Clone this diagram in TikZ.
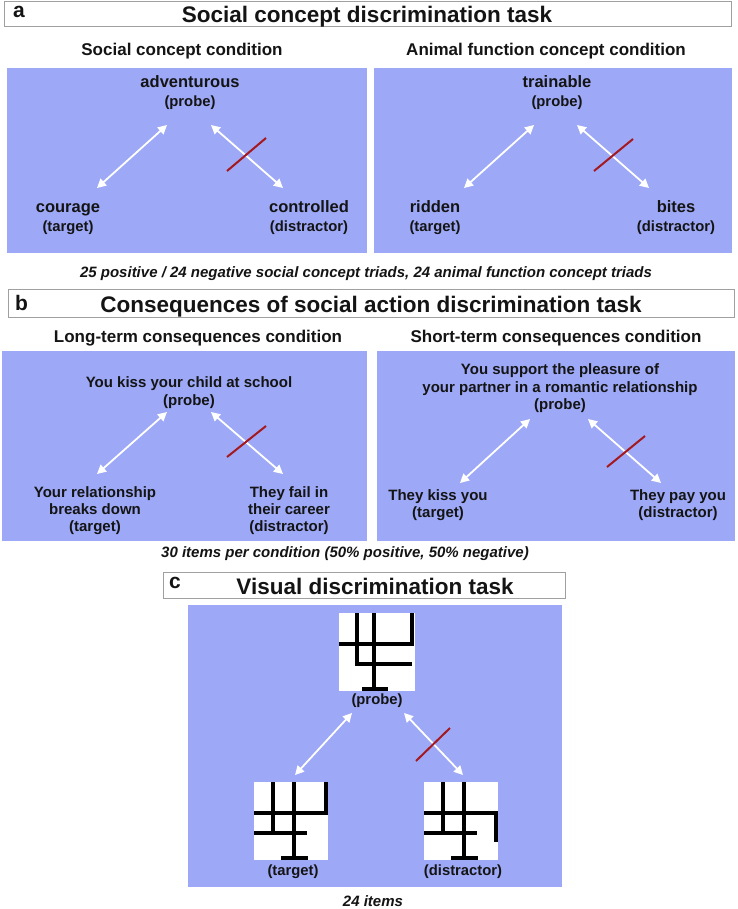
\documentclass[tikz,border=0pt]{standalone}
\usepackage{fontspec}
\setmainfont{Liberation Sans}
\usetikzlibrary{arrows.meta}
\definecolor{panel}{RGB}{157,169,246}
\definecolor{crossred}{RGB}{165,25,30}
\definecolor{boxgray}{RGB}{160,160,160}
\definecolor{ink}{RGB}{20,20,20}
\begin{document}
\begin{tikzpicture}[x=1pt,y=-1pt,
  every node/.style={inner sep=0pt, outer sep=0pt, anchor=base, text=ink},
  headbox/.style={draw=boxgray, line width=1pt, fill=white},
  panelbox/.style={fill=panel},
  titletext/.style={font=\fontsize{22.5}{27}\selectfont\bfseries},
  lettertext/.style={font=\fontsize{21}{25}\selectfont\bfseries, anchor=base west},
  condtext/.style={font=\fontsize{17}{20}\selectfont\bfseries},
  wordtext/.style={font=\fontsize{16.5}{20}\selectfont\bfseries},
  roletext/.style={font=\fontsize{14.8}{18}\selectfont\bfseries},
  phrasetext/.style={font=\fontsize{15}{18}\selectfont\bfseries},
  summtext/.style={font=\fontsize{15}{18}\selectfont\bfseries\itshape},
  relarrow/.style={draw=white, line width=1.8pt, {Triangle[length=9pt,width=9pt]}-{Triangle[length=9pt,width=9pt]}},
  crossline/.style={draw=crossred, line width=2pt},
  patline/.style={draw=black, line width=3.8pt},
]
\fill[white] (0,0) rectangle (737,909);
\useasboundingbox (0,0) rectangle (737,909);

% ---------------- a ----------------
\draw[headbox] (4,2) rectangle (731,27);
\node[lettertext] (la) at (13,18) {a};
\node[titletext] (ta) at (367,23) {Social concept discrimination task};
\node[condtext] (ca1) at (182,56) {Social concept condition};
\node[condtext] (ca2) at (546,56) {Animal function concept condition};
\fill[panelbox] (7,68) rectangle (367,253);
\fill[panelbox] (374,68) rectangle (732,253);

\node[wordtext] (a1p) at (190,88) {adventurous};
\node[roletext] (a1pr) at (190,107) {(probe)};
\node[wordtext] (a1t) at (68,213) {courage};
\node[roletext] (a1tr) at (68,232) {(target)};
\node[wordtext] (a1d) at (309,213) {controlled};
\node[roletext] (a1dr) at (309,232) {(distractor)};
\coordinate (a1tA) at (97,188); \coordinate (a1pA) at (167,125);
\coordinate (a1pB) at (211,125); \coordinate (a1dB) at (283,188);
\coordinate (a1x1) at (227,171); \coordinate (a1x2) at (266,138);
\draw[relarrow] (a1tA) -- (a1pA);
\draw[relarrow] (a1pB) -- (a1dB);
\draw[crossline] (a1x1) -- (a1x2);

\node[wordtext] (a2p) at (557,88) {trainable};
\node[roletext] (a2pr) at (557,107) {(probe)};
\node[wordtext] (a2t) at (435,213) {ridden};
\node[roletext] (a2tr) at (435,232) {(target)};
\node[wordtext] (a2d) at (676,213) {bites};
\node[roletext] (a2dr) at (676,232) {(distractor)};
\coordinate (a2tA) at (464,188); \coordinate (a2pA) at (534,125);
\coordinate (a2pB) at (577,125); \coordinate (a2dB) at (649,188);
\coordinate (a2x1) at (594,171); \coordinate (a2x2) at (633,139);
\draw[relarrow] (a2tA) -- (a2pA);
\draw[relarrow] (a2pB) -- (a2dB);
\draw[crossline] (a2x1) -- (a2x2);

\node[summtext] (sa) at (366,277) {25 positive / 24 negative social concept triads, 24 animal function concept triads};

% ---------------- b ----------------
\draw[headbox] (8,289) rectangle (734,317);
\node[lettertext] (lb) at (15,310) {b};
\node[titletext] (tb) at (371,312) {Consequences of social action discrimination task};
\node[condtext] (cb1) at (198,342) {Long-term consequences condition};
\node[condtext] (cb2) at (556,342) {Short-term consequences condition};
\fill[panelbox] (2,351) rectangle (367,541);
\fill[panelbox] (377,351) rectangle (735,541);

\node[phrasetext] (b1p) at (189,387) {You kiss your child at school};
\node[phrasetext] (b1pr) at (189,405) {(probe)};
\node[phrasetext] (b1t1) at (95,497) {Your relationship};
\node[phrasetext] (b1t2) at (95,514) {breaks down};
\node[phrasetext] (b1tr) at (95,531) {(target)};
\node[phrasetext] (b1d1) at (289,497) {They fail in};
\node[phrasetext] (b1d2) at (289,514) {their career};
\node[phrasetext] (b1dr) at (289,531) {(distractor)};
\coordinate (b1tA) at (97,474); \coordinate (b1pA) at (167,412);
\coordinate (b1pB) at (211,412); \coordinate (b1dB) at (283,474);
\coordinate (b1x1) at (227,457); \coordinate (b1x2) at (266,426);
\draw[relarrow] (b1tA) -- (b1pA);
\draw[relarrow] (b1pB) -- (b1dB);
\draw[crossline] (b1x1) -- (b1x2);

\node[phrasetext] (b2p1) at (560,374) {You support the pleasure of};
\node[phrasetext] (b2p2) at (560,392) {your partner in a romantic relationship};
\node[phrasetext] (b2pr) at (560,409) {(probe)};
\node[phrasetext] (b2t) at (438,500) {They kiss you};
\node[phrasetext] (b2tr) at (438,517) {(target)};
\node[phrasetext] (b2d) at (678,500) {They pay you};
\node[phrasetext] (b2dr) at (678,517) {(distractor)};
\coordinate (b2tA) at (460,483); \coordinate (b2pA) at (530,419);
\coordinate (b2pB) at (588,419); \coordinate (b2dB) at (661,483);
\coordinate (b2x1) at (607,467); \coordinate (b2x2) at (645,436);
\draw[relarrow] (b2tA) -- (b2pA);
\draw[relarrow] (b2pB) -- (b2dB);
\draw[crossline] (b2x1) -- (b2x2);

\node[summtext] (sb) at (345,557) {30 items per condition (50\% positive, 50\% negative)};

% ---------------- c ----------------
\draw[headbox] (163,572) rectangle (565,598);
\node[lettertext] (lc) at (169,588) {c};
\node[titletext] (tc) at (375,594) {Visual discrimination task};
\fill[panelbox] (188,605) rectangle (562,887);

% probe pattern
\begin{scope}[shift={(339,613)}]
  \fill[white] (0,0) rectangle (76,78);
  \draw[patline] (0,31) -- (73,31) -- (73,0);
  \draw[patline] (18,0) -- (18,51) -- (73,51);
  \draw[patline] (35,0) -- (35,76);
  \draw[patline] (23,76) -- (49,76);
\end{scope}
% target pattern
\begin{scope}[shift={(254,782)}]
  \fill[white] (0,0) rectangle (74,78);
  \draw[patline] (0,31) -- (72,31) -- (72,0);
  \draw[patline] (19,0) -- (19,51);
  \draw[patline] (0,51) -- (53,51);
  \draw[patline] (40,0) -- (40,76);
  \draw[patline] (27,76) -- (54,76);
\end{scope}
% distractor pattern
\begin{scope}[shift={(424,782)}]
  \fill[white] (0,0) rectangle (74,78);
  \draw[patline] (0,31) -- (72,31) -- (72,60);
  \draw[patline] (19,0) -- (19,51);
  \draw[patline] (0,51) -- (53,51);
  \draw[patline] (40,0) -- (40,76);
  \draw[patline] (27,76) -- (54,76);
\end{scope}

\node[roletext] (cpr) at (377,704) {(probe)};
\node[roletext] (ctr) at (293,875) {(target)};
\node[roletext] (cdr) at (463,875) {(distractor)};
\coordinate (ctA) at (295,775); \coordinate (cpA) at (352,713);
\coordinate (cpB) at (404,713); \coordinate (cdB) at (463,775);
\coordinate (cx1) at (416,761); \coordinate (cx2) at (450,728);
\draw[relarrow] (ctA) -- (cpA);
\draw[relarrow] (cpB) -- (cdB);
\draw[crossline] (cx1) -- (cx2);

\node[summtext] (sc) at (373,906) {24 items};
\end{tikzpicture}
\end{document}
